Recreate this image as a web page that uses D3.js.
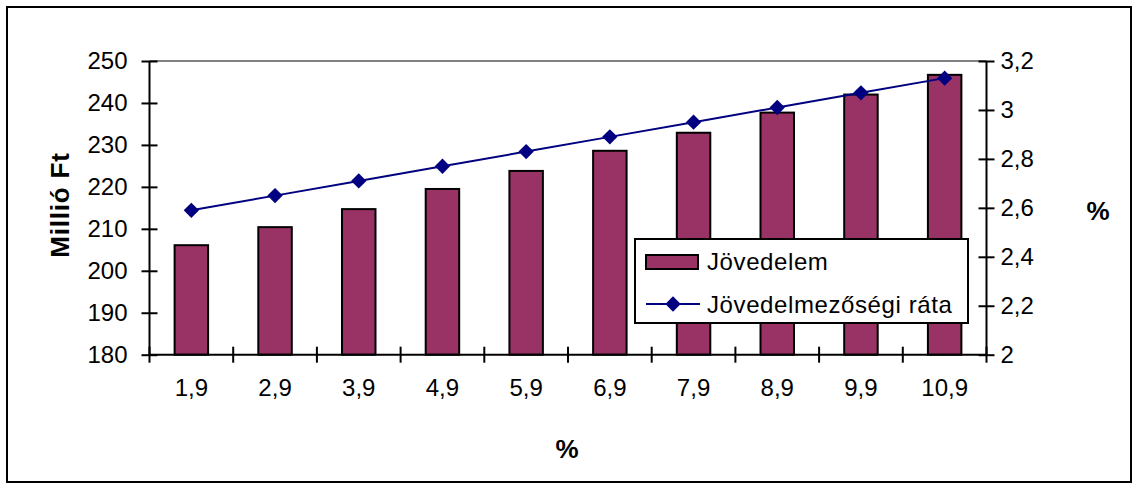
<!DOCTYPE html>
<html>
<head>
<meta charset="utf-8">
<script src="https://cdn.jsdelivr.net/npm/d3@7"></script>
<style>
  html, body { margin: 0; padding: 0; background: #fff; }
  svg { display: block; }
  text { font-family: "Liberation Sans", Arial, sans-serif; fill: #000; }
</style>
</head>
<body>
<svg id="chart" width="1139" height="491"></svg>
<script>
const categories = ["1,9", "2,9", "3,9", "4,9", "5,9", "6,9", "7,9", "8,9", "9,9", "10,9"];
const jovedelem = [206.1, 210.4, 214.7, 219.5, 223.8, 228.6, 232.9, 237.7, 242.0, 246.7];
const rata = [2.59, 2.65, 2.71, 2.77, 2.83, 2.89, 2.95, 3.01, 3.07, 3.13];
const leftTicks = [180, 190, 200, 210, 220, 230, 240, 250];
const rightTicks = [2, 2.2, 2.4, 2.6, 2.8, 3, 3.2];
const seriesNames = ["Jövedelem", "Jövedelmezőségi ráta"];
const leftTitle = "Millió Ft";
const rightTitle = "%";
const bottomTitle = "%";

const svg = d3.select("#chart");
const plot = { left: 149.5, right: 986.5, top: 61, bottom: 354.7 };
const FS = 24, TFS = 26;
const barColor = "#993366", lineColor = "#000080";

// outer border
svg.append("rect").attr("x", 7).attr("y", 7).attr("width", 1124).attr("height", 475)
  .attr("fill", "#fff").attr("stroke", "#000").attr("stroke-width", 2);

const x = d3.scaleBand().domain(categories).range([plot.left, plot.right]).paddingInner(0).paddingOuter(0);
const yL = d3.scaleLinear().domain([180, 250]).range([plot.bottom, plot.top]);
const yR = d3.scaleLinear().domain([2, 3.2]).range([plot.bottom, plot.top]);
const fmt = v => String(v).replace(".", ",");

// top gridline (250)
svg.append("line").attr("x1", plot.left).attr("x2", plot.right)
  .attr("y1", yL(250)).attr("y2", yL(250)).attr("stroke", "#808080").attr("stroke-width", 2);

// bars
const bw = x.bandwidth() / 2.5;
svg.append("g").selectAll("rect").data(jovedelem).join("rect")
  .attr("x", (d, i) => x(categories[i]) + x.bandwidth() / 2 - bw / 2)
  .attr("width", bw)
  .attr("y", d => yL(d))
  .attr("height", d => yL(180) - yL(d))
  .attr("fill", barColor).attr("stroke", "#000").attr("stroke-width", 2);

// left axis
const gL = svg.append("g").attr("transform", `translate(${plot.left},0)`)
  .call(d3.axisLeft(yL).tickValues(leftTicks).tickSize(8).tickFormat(d => d));
gL.select(".domain").attr("stroke", "#000").attr("stroke-width", 2).attr("d", `M0,${plot.top}V${plot.bottom}`);
gL.selectAll(".tick line").attr("x1", -8).attr("x2", 8).attr("stroke", "#000").attr("stroke-width", 2);
gL.selectAll(".tick text").attr("font-size", FS).attr("x", -22).attr("fill", "#000")
  .style("font-family", '"Liberation Sans", Arial, sans-serif');

// right axis
const gR = svg.append("g").attr("transform", `translate(${plot.right},0)`)
  .call(d3.axisRight(yR).tickValues(rightTicks).tickSize(8).tickFormat(fmt));
gR.select(".domain").attr("stroke", "#000").attr("stroke-width", 2).attr("d", `M0,${plot.top}V${plot.bottom}`);
gR.selectAll(".tick line").attr("x1", -8).attr("x2", 8).attr("stroke", "#000").attr("stroke-width", 2);
gR.selectAll(".tick text").attr("font-size", FS).attr("x", 14).attr("fill", "#000")
  .style("font-family", '"Liberation Sans", Arial, sans-serif');

// bottom axis
const gB = svg.append("g").attr("transform", `translate(0,${plot.bottom})`)
  .call(d3.axisBottom(x).tickSize(0).tickPadding(20));
gB.select(".domain").attr("stroke", "#000").attr("stroke-width", 2).attr("d", `M${plot.left},0H${plot.right}`);
gB.selectAll(".tick text").attr("font-size", FS).attr("fill", "#000").attr("dy", "0.9em")
  .style("font-family", '"Liberation Sans", Arial, sans-serif');
const bounds = categories.map(c => x(c)).concat([plot.right]);
gB.append("g").selectAll("line").data(bounds).join("line")
  .attr("x1", d => d).attr("x2", d => d).attr("y1", -8).attr("y2", 8)
  .attr("stroke", "#000").attr("stroke-width", 2);

// line series
const cx = (d, i) => x(categories[i]) + x.bandwidth() / 2;
const line = d3.line().x(cx).y(d => yR(d));
svg.append("path").datum(rata).attr("d", line).attr("fill", "none")
  .attr("stroke", lineColor).attr("stroke-width", 2);
const diamond = d3.symbol().type(d3.symbolDiamond2).size(150);
svg.append("g").selectAll("path").data(rata).join("path")
  .attr("d", diamond)
  .attr("transform", (d, i) => `translate(${cx(d, i)},${yR(d)})`)
  .attr("fill", lineColor);

// axis titles
svg.append("text").attr("transform", `translate(69,205) rotate(-90)`)
  .attr("text-anchor", "middle").attr("font-size", TFS).attr("font-weight", "bold")
  .attr("letter-spacing", "0.8").text(leftTitle);
svg.append("text").attr("x", 1098).attr("y", 220)
  .attr("text-anchor", "middle").attr("font-size", TFS).attr("font-weight", "bold").text(rightTitle);
svg.append("text").attr("x", 567).attr("y", 458)
  .attr("text-anchor", "middle").attr("font-size", TFS).attr("font-weight", "bold").text(bottomTitle);

// legend
const lg = svg.append("g");
lg.append("rect").attr("x", 635).attr("y", 239).attr("width", 333).attr("height", 84)
  .attr("fill", "#fff").attr("stroke", "#000").attr("stroke-width", 2);
lg.append("rect").attr("x", 646).attr("y", 255).attr("width", 52).attr("height", 14)
  .attr("fill", barColor).attr("stroke", "#000").attr("stroke-width", 2);
lg.append("text").attr("x", 707).attr("y", 270).attr("font-size", FS)
  .attr("letter-spacing", "0.6").text(seriesNames[0]);
lg.append("line").attr("x1", 646).attr("x2", 700).attr("y1", 304).attr("y2", 304)
  .attr("stroke", lineColor).attr("stroke-width", 2);
lg.append("path").attr("d", diamond).attr("transform", "translate(673,304)").attr("fill", lineColor);
lg.append("text").attr("x", 707).attr("y", 313).attr("font-size", FS)
  .attr("letter-spacing", "0.6").text(seriesNames[1]);
</script>
</body>
</html>
